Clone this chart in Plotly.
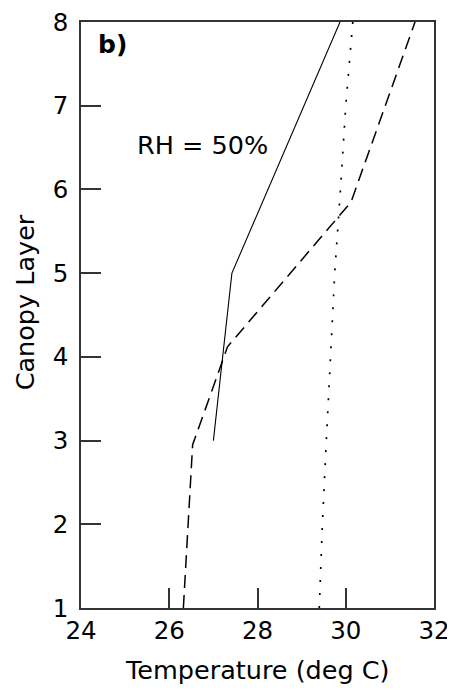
import plotly.graph_objects as go

# Data
solid_x = [27.0, 27.42, 29.87]
solid_y = [3.0, 5.0, 8.0]

dashed_x = [26.32, 26.53, 27.32, 30.12, 31.57]
dashed_y = [1.0, 2.95, 4.12, 5.85, 8.0]

dotted_x = [29.4, 29.47, 29.56, 29.65, 29.75, 29.88, 30.0, 30.16]
dotted_y = [1, 2, 3, 4, 5, 6, 7, 8]

x_ticks = [24, 26, 28, 30, 32]
y_ticks = [1, 2, 3, 4, 5, 6, 7, 8]

FONT = "DejaVu Sans, Liberation Sans, Arial, sans-serif"

fig = go.Figure()
fig.add_trace(go.Scatter(x=solid_x, y=solid_y, mode="lines",
                         line=dict(color="black", width=1.1), showlegend=False))
fig.add_trace(go.Scatter(x=dashed_x, y=dashed_y, mode="lines",
                         line=dict(color="black", width=1.5, dash="13px,7px"), showlegend=False))
fig.add_trace(go.Scatter(x=dotted_x, y=dotted_y, mode="lines",
                         line=dict(color="black", width=1.7, dash="2px,11px"), showlegend=False))

axis_common = dict(showgrid=False, zeroline=False, showline=True, linecolor="#333333",
                   linewidth=1.5, mirror=True, ticks="inside", ticklen=20, tickwidth=1.5,
                   tickcolor="#333333", automargin=False, ticklabeloverflow="allow",
                   tickfont=dict(size=24.5, color="black", family=FONT))

fig.update_xaxes(range=[24, 32], tickvals=x_ticks, ticktext=[str(v) for v in x_ticks],
                 ticklabelstandoff=0, **axis_common)
fig.update_yaxes(range=[1, 8], tickvals=y_ticks, ticktext=[str(v) for v in y_ticks],
                 ticklabelstandoff=6, **axis_common)

title_font = dict(size=25.5, color="black", family=FONT)
fig.add_annotation(x=0.501, y=-0.106, xref="paper", yref="paper", text="Temperature (deg C)",
                   showarrow=False, xanchor="center", yanchor="middle", font=title_font)
fig.add_annotation(x=-0.158, y=0.522, xref="paper", yref="paper", text="Canopy Layer",
                   showarrow=False, xanchor="center", yanchor="middle", textangle=-90,
                   font=title_font)

fig.add_annotation(x=0.042, y=0.961, xref="paper", yref="paper", text="<b>b)</b>",
                   showarrow=False, xanchor="left", yanchor="middle",
                   font=dict(size=25, color="black", family=FONT))
fig.add_annotation(x=0.152, y=0.79, xref="paper", yref="paper", text="RH = 50%",
                   showarrow=False, xanchor="left", yanchor="middle",
                   font=dict(size=25.5, color="black", family=FONT))
fig.add_annotation(x=1.057, y=0.174, xref="paper", yref="paper", text="950827-LH-CPTB",
                   showarrow=False, xanchor="center", yanchor="middle", textangle=-90,
                   font=dict(size=13, color="black", family=FONT))

# The page body adds an 8px offset, so the figure is sized to fill the rest of the window
fig.update_layout(width=447, height=682, margin=dict(l=73, r=21, t=14, b=82),
                  plot_bgcolor="white", paper_bgcolor="white",
                  font=dict(family=FONT, color="black"))

fig.write_html("out.html")
